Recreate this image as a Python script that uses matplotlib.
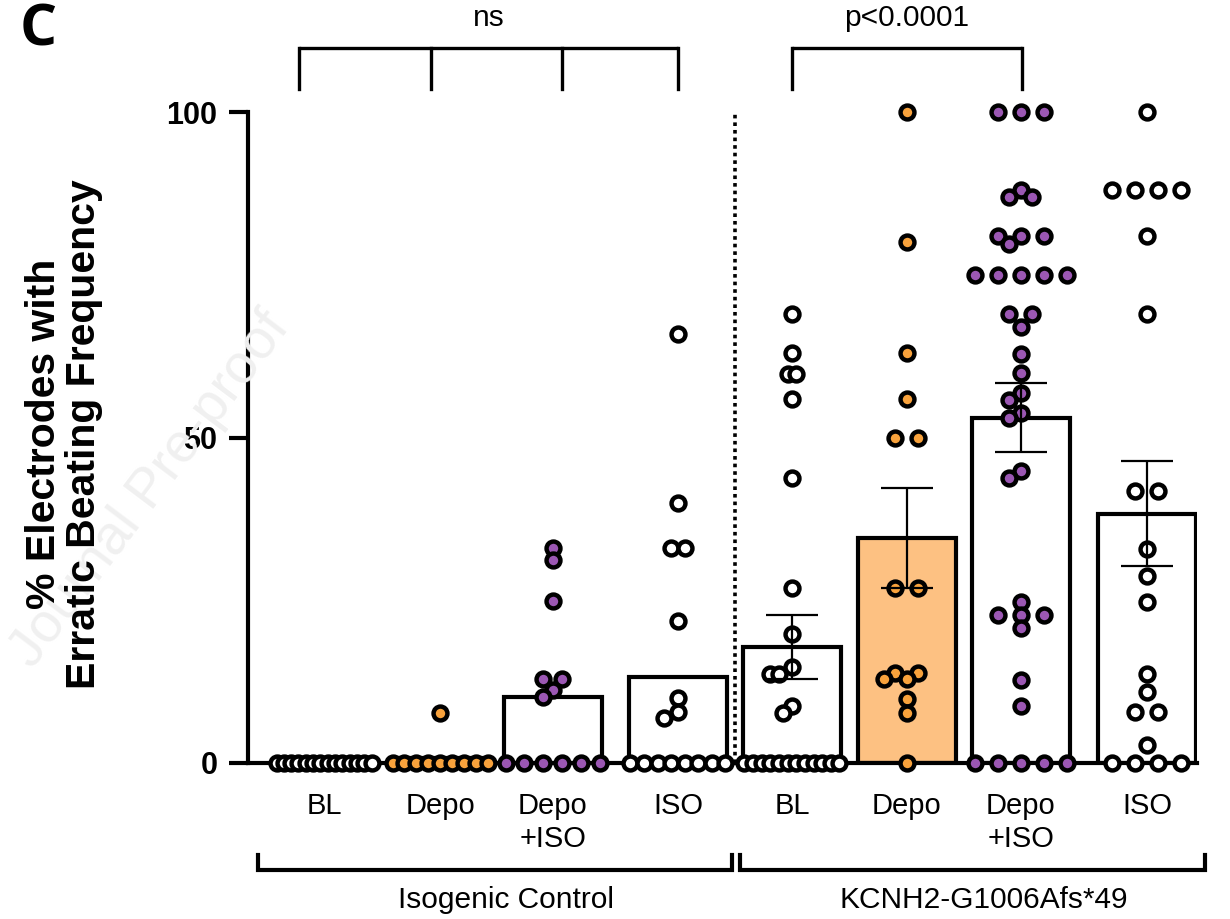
import numpy as np
import matplotlib
matplotlib.use("Agg")
import matplotlib.pyplot as plt

plt.rcParams['font.family'] = ['Liberation Sans', 'DejaVu Sans']

# ---------------------------------------------------------
# data (% electrodes per well)
# ---------------------------------------------------------
labels = ["BL", "Depo", "Depo\n+ISO", "ISO", "BL", "Depo", "Depo\n+ISO", "ISO"]

iso_bl = [0] * 14
iso_depo = [0] * 9 + [7.7]
iso_depo_iso = [0] * 6 + [33.0, 31.2, 24.9, 12.9, 12.9, 11.2, 10.1]
iso_iso = [0] * 8 + [65.9, 40.0, 33.0, 33.0, 21.8, 10.0, 7.8, 6.9]

kc_bl = [0] * 12 + [69.0, 63.0, 59.8, 59.8, 55.9, 43.8, 26.9, 19.8,
                    14.7, 13.7, 13.7, 8.8, 7.7]
kc_depo = [0, 100, 80.0, 63.0, 55.9, 50.0, 50.0, 26.9, 26.9,
           13.8, 13.8, 12.9, 12.9, 9.8, 7.7]
kc_depo_iso = ([0] * 5 + [100] * 3 + [88.0, 87.0, 87.0] + [81.0] * 3 + [79.8]
               + [75.0] * 5 + [68.9, 68.9, 66.9, 62.8, 59.9, 56.8, 55.8, 53.8,
                               53.0, 44.8, 43.8, 24.7, 22.7, 22.7, 22.7, 20.7,
                               12.8, 8.8])
kc_iso = ([0] * 4 + [100] + [88.0] * 4
          + [81.0, 68.9, 41.8, 41.8, 32.8, 28.7, 24.7, 13.7, 10.9, 7.8, 7.8, 2.7])

values = [iso_bl, iso_depo, iso_depo_iso, iso_iso,
          kc_bl, kc_depo, kc_depo_iso, kc_iso]

means = [0, 0.77, 10.1, 13.2, 17.8, 34.6, 53.0, 38.3]
sems = [0, 0, 0, 0, 4.9, 7.7, 5.3, 8.1]

group_names = ["Isogenic Control", "KCNH2-G1006Afs*49"]
stats = ["ns", "p<0.0001"]

# ---------------------------------------------------------
# style
# ---------------------------------------------------------
ORANGE = "#f8a23c"
ORANGE_BAR = "#fdc182"
PURPLE = "#9b57b3"
dot_colors = ["white", ORANGE, PURPLE, "white", "white", ORANGE, PURPLE, "white"]
bar_colors = ["white"] * 5 + [ORANGE_BAR] + ["white"] * 2

W, H = 1230, 919
fig = plt.figure(figsize=(W / 100, H / 100), dpi=100)

X0, X1 = 248, 1197
Y0, Y1 = 763, 112
ax = fig.add_axes([X0 / W, (H - Y0) / H, (X1 - X0) / W, (Y0 - Y1) / H])
ax.set_xlim(X0, X1)
ax.set_ylim(0, 100)
PX = (Y0 - Y1) / 100.0  # pixels per % unit

pos = [324, 440, 553, 678, 792, 907, 1021, 1147]
bar_w = 98


def swarm(vals, width=95, maxstep=23, mind=11):
    vals = np.asarray(vals, float)
    uniq, counts = np.unique(vals, return_counts=True)
    step = maxstep
    if counts.max() > 1:
        step = min(maxstep, width / (counts.max() - 1))
    xs = np.zeros(len(vals))
    placed = []
    shifts = [0]
    for k in range(1, 8):
        shifts += [-k * step / 2, k * step / 2]
    for v in sorted(uniq, reverse=True):
        idx = np.where(vals == v)[0]
        n = len(idx)
        base = (np.arange(n) - (n - 1) / 2) * step
        for shift in shifts:
            cand = base + shift
            ok = True
            for px, py in placed:
                d = np.hypot(cand - px, (v - py) * PX)
                if np.any(d < mind):
                    ok = False
                    break
            if ok:
                break
        xs[idx] = cand
        for c in cand:
            placed.append((c, v))
    return xs


ax.bar(pos, means, width=bar_w, color=bar_colors, edgecolor="black",
       linewidth=3, zorder=1)

for i, vals in enumerate(values):
    offs = swarm(vals)
    ax.scatter(np.array(pos[i]) + offs, vals, s=100, c=dot_colors[i],
               edgecolors="black", linewidths=3.2, zorder=3, clip_on=False)

for i in range(4, 8):
    ax.errorbar(pos[i], means[i], yerr=sems[i], fmt="none", ecolor="black",
                elinewidth=1.6, capsize=19, capthick=1.6, zorder=4)

ax.axvline(735, ymin=0, ymax=1, color="black", linestyle=(0, (1, 1.1)),
           linewidth=2.6, zorder=2)

for s in ["top", "right"]:
    ax.spines[s].set_visible(False)
for s in ["left", "bottom"]:
    ax.spines[s].set_linewidth(3)
ax.spines["bottom"].set_zorder(2.5)

ax.set_yticks([0, 50, 100])
ax.set_yticklabels(["0", "50", "100"], fontsize=22, fontweight="bold")
ax.tick_params(axis="y", length=14, width=3, pad=8)
ax.set_xticks(pos)
ax.set_xticklabels(labels, fontsize=21)
ax.tick_params(axis="x", length=0, pad=21)

# ---------------------------------------------------------
# annotations in pixel coordinates
# ---------------------------------------------------------
ov = fig.add_axes([0, 0, 1, 1])
ov.set_xlim(0, W)
ov.set_ylim(H, 0)
ov.axis("off")
ov.patch.set_visible(False)

ov.text(150, 490, "Journal Pre-proof", rotation=53, fontsize=40,
        color="#f0f0f0", ha="center", va="center", zorder=0)

ov.text(38, 31, "C", fontsize=42, fontweight="bold", family="Open Sans",
        ha="center", va="center")

fig.text(64 / W, 1 - 434 / H, "% Electrodes with\nErratic Beating Frequency",
         rotation=90, fontsize=29.5, fontweight="bold", ha="center", va="center",
         multialignment="center", linespacing=1.05)

# top stat brackets
lw_top = 2.4
ov.plot([299, 678], [48, 48], color="black", lw=lw_top, solid_capstyle="butt")
for xb in [299, 431, 562, 678]:
    ov.plot([xb, xb], [48, 89], color="black", lw=lw_top)
ov.plot([792, 1022], [48, 48], color="black", lw=lw_top, solid_capstyle="butt")
for xb in [792, 1022]:
    ov.plot([xb, xb], [48, 89], color="black", lw=lw_top)
ov.text(489, 18, stats[0], fontsize=21.5, ha="center", va="center")
ov.text(907, 18, stats[1], fontsize=21.5, ha="center", va="center")

# bottom group brackets
for (xa, xb), name in zip([(258, 732), (740, 1205)], group_names):
    ov.plot([xa, xa, xb, xb], [855, 870, 870, 855], color="black", lw=3,
            solid_joinstyle="miter")
    ov.text((xa + xb) / 2 + 11, 900, name, fontsize=21.5, ha="center",
            va="center")

fig.savefig("out.png", dpi=100)
